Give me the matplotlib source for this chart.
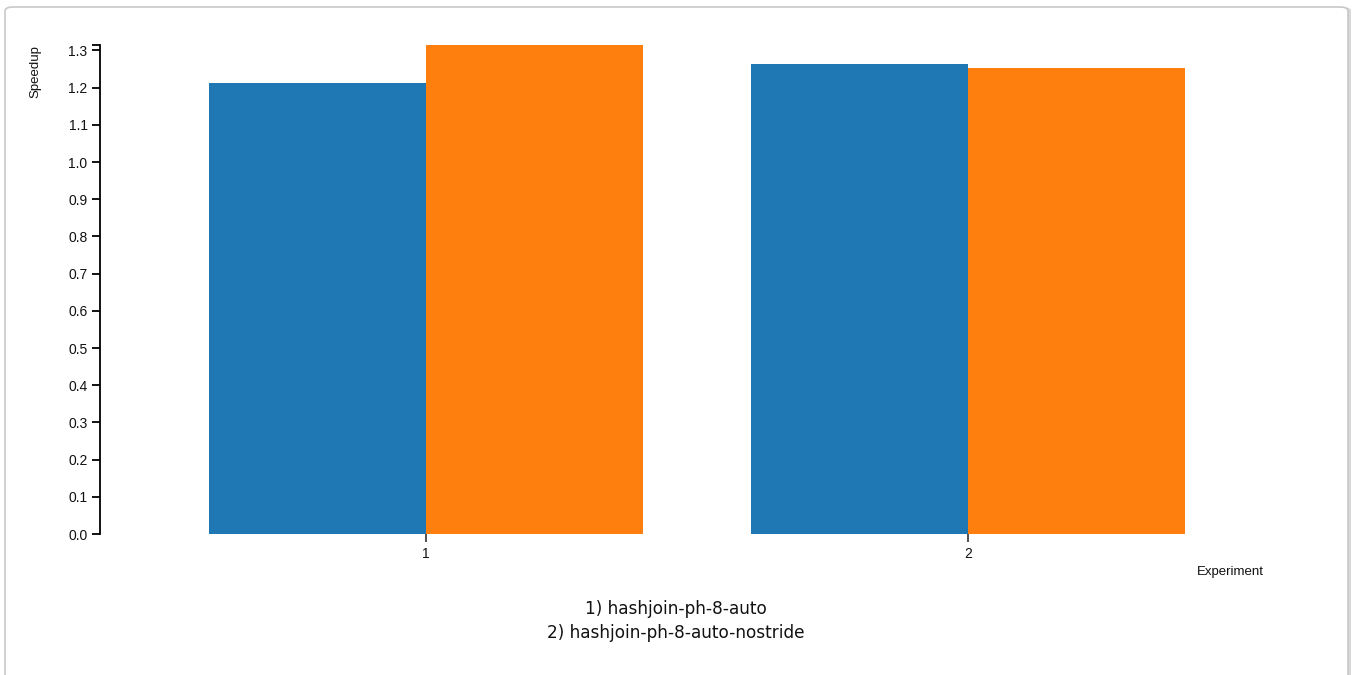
import numpy as np
import matplotlib.pyplot as plt
from matplotlib.patches import FancyBboxPatch
from matplotlib.ticker import FixedLocator

# values
experiments = ["1", "2"]
speedup_blue = [1.212, 1.263]
speedup_orange = [1.315, 1.253]
names = ["hashjoin-ph-8-auto", "hashjoin-ph-8-auto-nostride"]
yticks = [0.0, 0.1, 0.2, 0.3, 0.4, 0.5, 0.6, 0.7, 0.8, 0.9, 1.0, 1.1, 1.2, 1.3]

W, H = 1355, 675
fig = plt.figure(figsize=(W / 100, H / 100), dpi=100)
plt.rcParams['font.family'] = ['Liberation Sans', 'DejaVu Sans']

# card background with a soft border
shadow = FancyBboxPatch((8 / W, -20 / H), 1343 / W, (H - 7 + 20) / H,
                        boxstyle="round,pad=0,rounding_size=0.006",
                        transform=fig.transFigure, facecolor='#d8d8d8',
                        edgecolor='none', zorder=0)
card = FancyBboxPatch((5 / W, -20 / H), 1343 / W, (H - 7 + 20) / H,
                      boxstyle="round,pad=0,rounding_size=0.006",
                      transform=fig.transFigure, facecolor='white',
                      edgecolor='#c8c8c8', linewidth=1.2, zorder=1)
fig.patches.extend([shadow, card])

ymax = max(max(speedup_blue), max(speedup_orange))
left, right, bottom, top = 100, 1294, 534, 534 - ymax * 372
ax = fig.add_axes([left / W, 1 - bottom / H, (right - left) / W, (bottom - top) / H])
ax.set_facecolor('none')
ax.set_zorder(2)

x = np.arange(len(experiments))
w = 0.4
ax.bar(x - w / 2, speedup_blue, width=w, color='#1f77b4', linewidth=0)
ax.bar(x + w / 2, speedup_orange, width=w, color='#ff7f0e', linewidth=0)

half = (right - left) / 2 / 542
ax.set_xlim(0.5 - half, 0.5 + half)
ax.set_ylim(0, ymax)

for s in ['top', 'right', 'bottom']:
    ax.spines[s].set_visible(False)
ax.spines['left'].set_color('black')
ax.spines['left'].set_linewidth(1.3)

ax.set_xticks(x, experiments)
ax.set_yticks(yticks, [f"{v:.1f}" for v in yticks])
ax.yaxis.set_minor_locator(FixedLocator([ymax]))
ax.tick_params(axis='y', which='both', length=6, width=1.3, color='black',
               labelsize=10, labelcolor='#111111', pad=3)
ax.tick_params(axis='x', length=6, width=1.3, color='#444444',
               labelsize=10, labelcolor='#111111', pad=3)

fig.text(35 / W, 1 - 72 / H, "Speedup", rotation=90, ha='center', va='center',
         fontsize=9.5, color='#111111')
fig.text(1230 / W, 1 - 572 / H, "Experiment", ha='center', va='center',
         fontsize=9.5, color='#111111')

caption = "\n".join(f"{i + 1}) {n}" for i, n in enumerate(names))
fig.text(676 / W, 1 - 621 / H, caption, ha='center', va='center',
         fontsize=12.2, family='DejaVu Sans', linespacing=1.5, color='#111111')

fig.savefig('out.png', dpi=100)
